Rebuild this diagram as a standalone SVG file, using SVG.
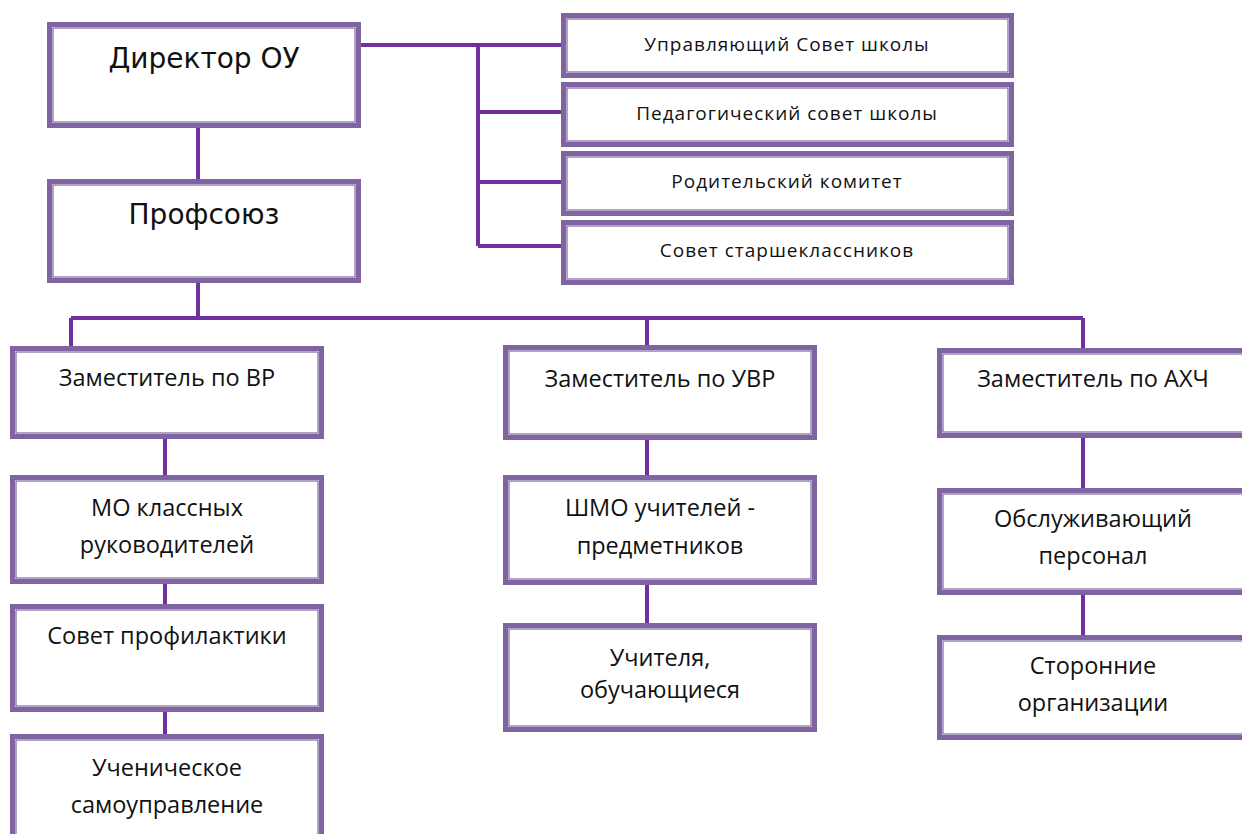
<svg xmlns="http://www.w3.org/2000/svg" width="1242" height="834" viewBox="0 0 1242 834">
<style>
.o{fill:#fff;stroke:#8064A2;stroke-width:5}
.i{fill:none;stroke:#8064A2;stroke-width:1.2}
.c{fill:none;stroke:#7030A0;stroke-width:4}
.big{font-family:"DejaVu Sans",sans-serif;font-size:28px;fill:#111;text-anchor:middle}
.t{font-family:"Open Sans",sans-serif;font-size:23.5px;fill:#111;text-anchor:middle}
.s{font-family:"Open Sans",sans-serif;font-size:19px;fill:#111;text-anchor:middle;letter-spacing:1px}
</style>
<rect width="1242" height="834" fill="#fff"/>
<g id="connectors">
<path class="c" d="M361,45 H563 M478,45 V246 M478,112 H563 M478,182 H563 M478,246 H563"/>
<path class="c" d="M198,128 V179 M198,283 V318 M71,318 H1083 M71,318 V346 M647,318 V345 M1083,318 V348"/>
<path class="c" d="M165,439 V475 M165,584 V604 M165,712 V734"/>
<path class="c" d="M647,440 V475 M647,585 V623"/>
<path class="c" d="M1083,438 V488 M1083,595 V635"/>
</g>
<g id="director">
<rect class="o" x="49.5" y="24.5" width="309" height="101"/>
<rect class="i" x="53" y="28" width="302" height="94"/>
<text class="big" x="204" y="68">Директор  ОУ</text>
</g>
<g id="profsoyuz">
<rect class="o" x="49.5" y="181.5" width="309" height="99"/>
<rect class="i" x="53" y="185" width="302" height="92"/>
<text class="big" x="204" y="224">Профсоюз</text>
</g>
<g id="r1">
<rect class="o" x="563.5" y="15.5" width="448" height="60"/>
<rect class="i" x="567" y="19" width="441" height="53"/>
<text class="s" x="787" y="51">Управляющий Совет школы</text>
</g>
<g id="r2">
<rect class="o" x="563.5" y="84.5" width="448" height="60"/>
<rect class="i" x="567" y="88" width="441" height="53"/>
<text class="s" x="787" y="120">Педагогический совет школы</text>
</g>
<g id="r3">
<rect class="o" x="563.5" y="153.5" width="448" height="60"/>
<rect class="i" x="567" y="157" width="441" height="53"/>
<text class="s" x="787" y="188">Родительский комитет</text>
</g>
<g id="r4">
<rect class="o" x="563.5" y="222.5" width="448" height="60"/>
<rect class="i" x="567" y="226" width="441" height="53"/>
<text class="s" x="787" y="257">Совет старшеклассников</text>
</g>
<g id="vr">
<rect class="o" x="12.5" y="348.5" width="309" height="88"/>
<rect class="i" x="16" y="352" width="302" height="81"/>
<text class="t" x="167" y="386">Заместитель по ВР</text>
</g>
<g id="mo">
<rect class="o" x="12.5" y="477.5" width="309" height="104"/>
<rect class="i" x="16" y="481" width="302" height="97"/>
<text class="t" x="167" y="516">МО классных</text>
<text class="t" x="167" y="553">руководителей</text>
</g>
<g id="sp">
<rect class="o" x="12.5" y="606.5" width="309" height="103"/>
<rect class="i" x="16" y="610" width="302" height="96"/>
<text class="t" x="167" y="644">Совет профилактики</text>
</g>
<g id="us">
<rect class="o" x="12.5" y="736.5" width="309" height="120"/>
<rect class="i" x="16" y="740" width="302" height="113"/>
<text class="t" x="167" y="776">Ученическое</text>
<text class="t" x="167" y="813">самоуправление</text>
</g>
<g id="uvr">
<rect class="o" x="505.5" y="347.5" width="309" height="90"/>
<rect class="i" x="509" y="351" width="302" height="83"/>
<text class="t" x="660" y="387">Заместитель по УВР</text>
</g>
<g id="shmo">
<rect class="o" x="505.5" y="477.5" width="309" height="105"/>
<rect class="i" x="509" y="481" width="302" height="98"/>
<text class="t" x="660" y="516">ШМО учителей -</text>
<text class="t" x="660" y="554">предметников</text>
</g>
<g id="uch">
<rect class="o" x="505.5" y="625.5" width="309" height="104"/>
<rect class="i" x="509" y="629" width="302" height="97"/>
<text class="t" x="660" y="666">Учителя,</text>
<text class="t" x="660" y="698">обучающиеся</text>
</g>
<g id="axch">
<rect class="o" x="939.5" y="350.5" width="309" height="85"/>
<rect class="i" x="943" y="354" width="302" height="78"/>
<text class="t" x="1093" y="387">Заместитель по АХЧ</text>
</g>
<g id="obs">
<rect class="o" x="939.5" y="490.5" width="309" height="102"/>
<rect class="i" x="943" y="494" width="302" height="95"/>
<text class="t" x="1093" y="527">Обслуживающий</text>
<text class="t" x="1093" y="564">персонал</text>
</g>
<g id="stor">
<rect class="o" x="939.5" y="637.5" width="309" height="100"/>
<rect class="i" x="943" y="641" width="302" height="93"/>
<text class="t" x="1093" y="674">Сторонние</text>
<text class="t" x="1093" y="711">организации</text>
</g>
</svg>
